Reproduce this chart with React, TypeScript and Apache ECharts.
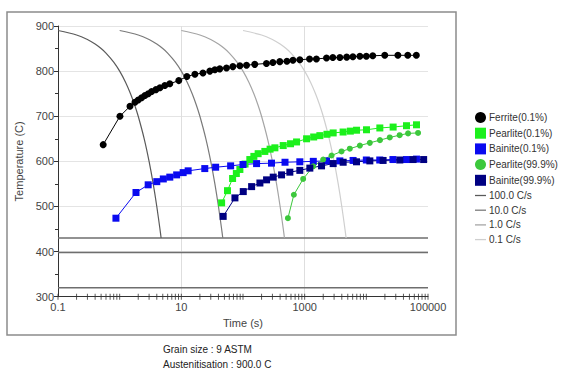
import React, { useEffect, useRef } from "react";
import * as echarts from "echarts";

// ---- Data (time in seconds, temperature in C) ----
const ferriteTime = [0.54, 1.01, 1.47, 1.77, 2.0, 2.27, 2.57, 2.91, 3.3, 3.88, 4.5, 5.4, 6.5, 9.1, 12.3, 16.6, 22.4, 29, 35, 42, 54, 68.5, 89, 114, 155, 240, 305, 395, 515, 645, 835, 1200, 1550, 2260, 2860, 3720, 4800, 6050, 7850, 10000, 12700, 19900, 32500, 47000, 64700];
const ferriteTemp = [637, 700, 722, 731, 736, 741, 746, 750, 755, 759, 763, 768, 772, 779, 788, 793, 796, 800, 803, 805, 807, 810, 812, 813, 815, 817, 819, 821, 822, 824, 825, 827, 827, 829, 830, 830, 831, 832, 833, 833, 834, 835, 835, 835, 835];

const pearlite01Time = [45, 56, 67.8, 78, 89, 108, 129, 150, 176, 226, 275, 329, 449, 590, 739, 1074, 1400, 1764, 2300, 2900, 4200, 5500, 6940, 10070, 16560, 27200, 44800, 65100];
const pearlite01Temp = [508, 535, 562, 573, 582, 594, 604, 611, 617, 622, 627, 630, 635, 639, 643, 650, 654, 657, 660, 663, 665, 667, 669, 670, 674, 676, 679, 681];

const bainite01Time = [0.87, 1.84, 2.9, 4.0, 5.1, 6.5, 8.4, 10.7, 12.9, 24, 36, 63, 100, 166, 290, 480, 835, 1380, 2260, 3720, 6100, 10000, 16500, 27000, 44800, 65000];
const bainite01Temp = [474, 531, 548, 555, 561, 565, 570, 575, 579, 584, 587, 590, 593, 595, 596, 598, 599, 600, 601, 601, 602, 603, 603, 604, 604, 605];

const pearlite999Time = [535, 668, 946, 1375, 1995, 2730, 3960, 5400, 7850, 11400, 16600, 24000, 34700, 47500, 69000];
const pearlite999Temp = [474, 526, 561, 589, 604, 613, 622, 628, 635, 641, 647, 653, 658, 662, 663];

const bainite999Time = [47.7, 74, 101, 138, 188, 241, 309, 422, 575, 835, 1213, 1878, 2900, 4210, 6930, 11400, 18700, 34900, 57300, 85000];
const bainite999Temp = [478, 519, 533, 544, 552, 559, 565, 570, 576, 580, 585, 590, 595, 598, 599, 601, 602, 603, 604, 604];

const coolTemps = [890, 880, 870, 860, 850, 840, 820, 800, 775, 750, 725, 700, 650, 600, 550, 500, 450, 430];
const coolTime100 = [0.1, 0.2, 0.3, 0.4, 0.5, 0.6, 0.8, 1.0, 1.25, 1.5, 1.75, 2.0, 2.5, 3.0, 3.5, 4.0, 4.5, 4.7];
const coolTime10 = [1, 2, 3, 4, 5, 6, 8, 10, 12.5, 15, 17.5, 20, 25, 30, 35, 40, 45, 47];
const coolTime1 = [10, 20, 30, 40, 50, 60, 80, 100, 125, 150, 175, 200, 250, 300, 350, 400, 450, 470];
const coolTime01 = [100, 200, 300, 400, 500, 600, 800, 1000, 1250, 1500, 1750, 2000, 2500, 3000, 3500, 4000, 4500, 4700];

const levelTemps = [430, 398, 320];
const timeRange = [0.1, 100000];

const yTickLabels = [300, 400, 500, 600, 700, 800, 900];
const xTickLabels = ["0.1", "10", "1000", "100000"];

const legendNames = [
  "Ferrite(0.1%)",
  "Pearlite(0.1%)",
  "Bainite(0.1%)",
  "Pearlite(99.9%)",
  "Bainite(99.9%)",
  "100.0 C/s",
  "10.0 C/s",
  "1.0 C/s",
  "0.1 C/s",
];

const infoLines = ["Grain size : 9 ASTM", "Austenitisation : 900.0 C"];

const FONT = "Liberation Sans, Arial, sans-serif";
const LINE_ICON = "path://M0,0H12V1.4H0Z";

function toXY(ts: number[], Ts: number[]) {
  return ts.map((t, i) => [Math.log10(t), Ts[i]]);
}

export default function App() {
  const ref = useRef<HTMLDivElement>(null);

  useEffect(() => {
    if (!ref.current) return;
    const chart = echarts.init(ref.current, undefined, { renderer: "svg" });

    // log-scale tick marks (1..9 x 10^n) along the time axis
    const tickPoints: number[][] = [];
    for (let n = -1; n <= 4; n++) {
      for (let k = 1; k <= 9; k++) tickPoints.push([Math.log10(k * Math.pow(10, n)), 300]);
    }
    tickPoints.push([5, 300]);

    const markerSeries = (
      name: string,
      ts: number[],
      Ts: number[],
      color: string,
      symbol: string,
      size: number
    ) => ({
      name,
      type: "line",
      data: toXY(ts, Ts),
      symbol,
      symbolSize: size,
      showAllSymbol: true,
      itemStyle: { color },
      lineStyle: { color, width: 1 },
      z: 5,
    });

    const coolSeries = (name: string, ts: number[], color: string) => ({
      name,
      type: "line",
      data: toXY(ts, coolTemps),
      symbol: "none",
      smooth: 0.3,
      lineStyle: { color, width: 1.2 },
      itemStyle: { color },
      z: 3,
    });

    const levelSeries = levelTemps.map((T, i) => ({
      name: "level" + i,
      type: "line",
      data: toXY(timeRange, [T, T]),
      symbol: "none",
      lineStyle: { color: "#6e6e6e", width: 1.5 },
      z: 2,
    }));

    const option: any = {
      animation: false,
      backgroundColor: "#ffffff",
      textStyle: { fontFamily: FONT },
      grid: { left: 58, top: 26, width: 370, height: 270.7, containLabel: false },
      xAxis: {
        type: "value",
        min: -1,
        max: 5,
        interval: 2,
        name: "Time (s)",
        nameLocation: "middle",
        nameGap: 20,
        nameTextStyle: { fontSize: 11, color: "#444", fontFamily: FONT },
        axisLine: { onZero: false, lineStyle: { color: "#333", width: 1 } },
        axisTick: { show: false },
        axisLabel: {
          fontSize: 11,
          color: "#444",
          fontFamily: FONT,
          margin: 5,
          formatter: (v: number) => xTickLabels[Math.round((v + 1) / 2)] ?? "",
        },
        splitLine: {
          show: true,
          showMinLine: false,
          showMaxLine: false,
          lineStyle: { color: "#dedede", width: 1 },
        },
      },
      yAxis: {
        type: "value",
        min: 300,
        max: 900,
        interval: 100,
        name: "Temperature (C)",
        nameLocation: "middle",
        nameGap: 23,
        nameTextStyle: { fontSize: 11, color: "#444", fontFamily: FONT },
        axisLine: { show: true, onZero: false, lineStyle: { color: "#333", width: 1 } },
        axisTick: { show: true, length: 4, lineStyle: { color: "#333" } },
        minorTick: { show: true, splitNumber: 2, length: 3, lineStyle: { color: "#333" } },
        axisLabel: {
          fontSize: 11,
          color: "#444",
          fontFamily: FONT,
          margin: 4,
          formatter: (v: number) => (yTickLabels.includes(v) ? String(v) : ""),
        },
        splitLine: { show: true, lineStyle: { color: "#e4e4e4", width: 1 } },
      },
      legend: {
        orient: "vertical",
        left: 470,
        top: 107,
        itemWidth: 11,
        itemHeight: 11,
        itemGap: 4.7,
        selectedMode: false,
        textStyle: { fontSize: 10, color: "#333", fontFamily: FONT, padding: [0, 0, 0, -2] },
        data: [
          { name: legendNames[0], icon: "circle" },
          { name: legendNames[1], icon: "rect" },
          { name: legendNames[2], icon: "rect" },
          { name: legendNames[3], icon: "circle" },
          { name: legendNames[4], icon: "rect" },
          { name: legendNames[5], icon: LINE_ICON },
          { name: legendNames[6], icon: LINE_ICON },
          { name: legendNames[7], icon: LINE_ICON },
          { name: legendNames[8], icon: LINE_ICON },
        ],
      },
      graphic: [
        {
          type: "rect",
          shape: { x: 7, y: 12, width: 449, height: 323 },
          style: { fill: "none", stroke: "#8c8c8c", lineWidth: 1.5 },
          silent: true,
          z: -1,
        },
        {
          type: "text",
          left: 163,
          top: 344,
          style: { text: infoLines[0], fontSize: 10, fill: "#222", fontFamily: FONT },
        },
        {
          type: "text",
          left: 163,
          top: 359,
          style: { text: infoLines[1], fontSize: 10, fill: "#222", fontFamily: FONT },
        },
      ],
      series: [
        ...levelSeries,
        {
          name: "ticks",
          type: "scatter",
          data: tickPoints,
          symbol: "rect",
          symbolSize: [1, 6],
          itemStyle: { color: "#333" },
          clip: false,
          silent: true,
          z: 6,
        },
        coolSeries(legendNames[5], coolTime100, "#5a5a5a"),
        coolSeries(legendNames[6], coolTime10, "#7a7a7a"),
        coolSeries(legendNames[7], coolTime1, "#a5a5a5"),
        coolSeries(legendNames[8], coolTime01, "#cfcfcf"),
        markerSeries(legendNames[0], ferriteTime, ferriteTemp, "#000000", "circle", 7),
        markerSeries(legendNames[1], pearlite01Time, pearlite01Temp, "#1cf01c", "rect", 7),
        markerSeries(legendNames[2], bainite01Time, bainite01Temp, "#0a0af0", "rect", 7),
        markerSeries(legendNames[3], pearlite999Time, pearlite999Temp, "#3cc83c", "circle", 6),
        markerSeries(legendNames[4], bainite999Time, bainite999Temp, "#000082", "rect", 7),
      ],
    };

    chart.setOption(option);
    return () => chart.dispose();
  }, []);

  return (
    <div
      ref={ref}
      style={{ position: "fixed", left: 0, top: 0, width: 563, height: 371, background: "#fff" }}
    />
  );
}
